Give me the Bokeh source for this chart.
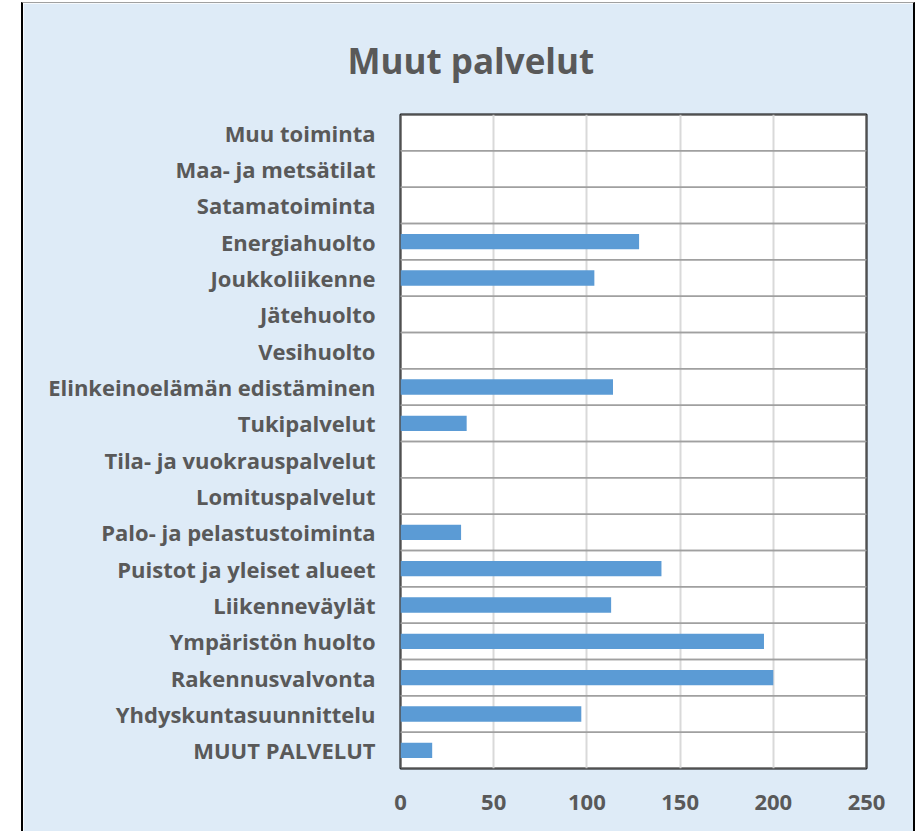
from bokeh.plotting import figure
from bokeh.layouts import row, column
from bokeh.models import Spacer, FactorRange, Range1d, FixedTicker
from bokeh.embed import file_html
from bokeh.resources import INLINE

categories = [
    "Muu toiminta", "Maa- ja metsätilat", "Satamatoiminta", "Energiahuolto",
    "Joukkoliikenne", "Jätehuolto", "Vesihuolto", "Elinkeinoelämän edistäminen",
    "Tukipalvelut", "Tila- ja vuokrauspalvelut", "Lomituspalvelut",
    "Palo- ja pelastustoiminta", "Puistot ja yleiset alueet", "Liikenneväylät",
    "Ympäristön huolto", "Rakennusvalvonta", "Yhdyskuntasuunnittelu", "MUUT PALVELUT",
]
values = [0, 0, 0, 128, 104, 0, 0, 114, 35.5, 0, 0, 32.5, 140, 113, 195, 200, 97, 17]
x_ticks = [0, 50, 100, 150, 200, 250]

BG = "#DEEBF7"
TXT = "#595959"
FONT = "Open Sans"

p = figure(
    width=894, height=829,
    y_range=FactorRange(factors=categories[::-1]),
    x_range=Range1d(x_ticks[0], x_ticks[-1]),
    output_backend="svg", toolbar_location=None,
    title="Muut palvelut",
    min_border_left=377, min_border_right=51, min_border_top=111, min_border_bottom=64,
)
p.background_fill_color = "white"
p.border_fill_color = BG
p.outline_line_color = "black"
p.outline_line_width = 2

p.title.text_font = FONT
p.title.text_font_size = "35px"
p.title.text_font_style = "bold"
p.title.text_color = TXT
p.title.align = "left"
p.title.offset = -53
p.title.standoff = 62

# category boundary lines
p.hbar(y=categories, height=1.0, left=x_ticks[0], right=x_ticks[-1],
       fill_alpha=0, line_color="#A0A0A0", line_width=1.5)
# bars
p.hbar(y=categories, right=values, left=0, height=0.42,
       fill_color="#5B9BD5", line_color=None)

p.xaxis.ticker = FixedTicker(ticks=x_ticks)
p.xaxis.axis_line_color = None
p.xaxis.major_tick_line_color = None
p.xaxis.minor_tick_line_color = None
p.xaxis.major_label_text_font = FONT
p.xaxis.major_label_text_font_size = "22px"
p.xaxis.major_label_text_font_style = "bold"
p.xaxis.major_label_text_color = TXT
p.xaxis.major_label_standoff = 20

p.yaxis.axis_line_color = None
p.yaxis.major_tick_line_color = None
p.yaxis.minor_tick_line_color = None
p.yaxis.major_label_text_font = FONT
p.yaxis.major_label_text_font_size = "22px"
p.yaxis.major_label_text_font_style = "bold"
p.yaxis.major_label_text_color = TXT
p.yaxis.major_label_standoff = 19

p.xgrid.grid_line_color = "#D9D9D9"
p.xgrid.grid_line_width = 2
p.ygrid.grid_line_color = None

p.styles = {"border-left": "2px solid black", "border-right": "2px solid black",
            "border-top": "1px solid #A0A0A0"}

layout = column(Spacer(width=10, height=2), row(Spacer(width=21, height=829), p))
open("out.html", "w").write(file_html(layout, INLINE))
